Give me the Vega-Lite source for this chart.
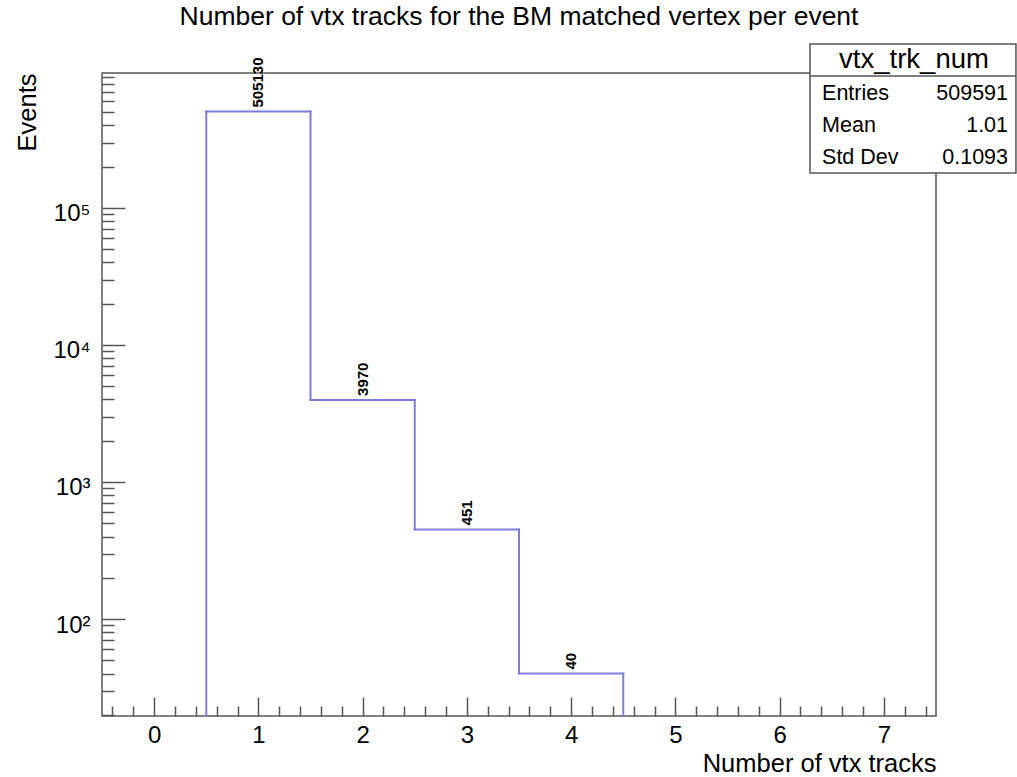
{
  "$schema": "https://vega.github.io/schema/vega-lite/v6.json",
  "width": 834,
  "height": 643,
  "autosize": {"type": "none"},
  "padding": {"left": 102, "top": 73, "right": 81, "bottom": 61},
  "background": "white",
  "title": {
    "text": "Number of vtx tracks for the BM matched vertex per event",
    "frame": "group",
    "anchor": "middle",
    "baseline": "alphabetic",
    "offset": -8,
    "fontSize": 26.5,
    "fontWeight": "normal",
    "font": "Liberation Sans",
    "color": "#000"
  },
  "datasets": {
    "hist": [
      {"bin": 1, "lo": 0.5, "hi": 1.5, "count": 505130},
      {"bin": 2, "lo": 1.5, "hi": 2.5, "count": 3970},
      {"bin": 3, "lo": 2.5, "hi": 3.5, "count": 451},
      {"bin": 4, "lo": 3.5, "hi": 4.5, "count": 40}
    ],
    "stats": [
      {"name": "vtx_trk_num", "entries": "509591", "mean": "1.01", "stddev": "0.1093"}
    ]
  },
  "data": {"name": "hist"},
  "layer": [
    {
      "mark": {"type": "rule", "stroke": "#7b7be0", "strokeWidth": 2, "strokeCap": "square"},
      "encoding": {
        "x": {
          "field": "lo",
          "type": "quantitative",
          "scale": {"domain": [-0.5, 7.5], "nice": false, "zero": false},
          "axis": {
            "title": "Number of vtx tracks",
            "titleAnchor": "end",
            "titleFontSize": 25.5,
            "titleFontWeight": "normal",
            "titleColor": "#000",
            "titlePadding": -5,
            "values": [-0.4, -0.2, 0, 0.2, 0.4, 0.6, 0.8, 1, 1.2, 1.4, 1.6, 1.8, 2, 2.2, 2.4, 2.6, 2.8, 3, 3.2, 3.4, 3.6, 3.8, 4, 4.2, 4.4, 4.6, 4.8, 5, 5.2, 5.4, 5.6, 5.8, 6, 6.2, 6.4, 6.6, 6.8, 7, 7.2, 7.4],
            "tickCount": 200,
            "labelExpr": "datum.value % 1 == 0 ? '' + datum.value : ''",
            "labelFontSize": 24,
            "labelColor": "#000",
            "labelPadding": 26,
            "labelFlush": false,
            "labelOverlap": false,
            "tickSize": {"condition": {"test": "datum.value % 1 == 0", "value": -19}, "value": -10},
            "tickColor": "#555",
            "tickWidth": 1.5,
            "domain": false,
            "grid": false
          }
        },
        "x2": {"field": "hi"},
        "y": {
          "field": "count",
          "type": "quantitative",
          "scale": {"type": "log", "domain": [19.6, 965400], "nice": false},
          "axis": {
            "title": "Events",
            "titleAnchor": "end",
            "titleFontSize": 25.5,
            "titleFontWeight": "normal",
            "titleColor": "#000",
            "titlePadding": 12,
            "values": [20, 30, 40, 50, 60, 70, 80, 90, 100, 200, 300, 400, 500, 600, 700, 800, 900, 1000, 2000, 3000, 4000, 5000, 6000, 7000, 8000, 9000, 10000, 20000, 30000, 40000, 50000, 60000, 70000, 80000, 90000, 100000, 200000, 300000, 400000, 500000, 600000, 700000, 800000, 900000],
            "tickCount": 200,
            "labelExpr": "datum.value == 100 ? '10²' : datum.value == 1000 ? '10³' : datum.value == 10000 ? '10⁴' : datum.value == 100000 ? '10⁵' : ''",
            "labelFontSize": 24,
            "labelColor": "#000",
            "labelPadding": 35,
            "labelOffset": 6,
            "labelBaseline": "middle",
            "labelFlush": false,
            "labelOverlap": false,
            "tickSize": {"condition": {"test": "indexof([100, 1000, 10000, 100000], datum.value) >= 0", "value": -23}, "value": -12},
            "tickColor": "#555",
            "tickWidth": 1.5,
            "domain": false,
            "grid": false
          }
        }
      }
    },
    {
      "transform": [
        {"window": [{"op": "lag", "field": "count", "as": "prev"}], "sort": [{"field": "lo", "order": "ascending"}]},
        {"filter": "isValid(datum.prev)"}
      ],
      "mark": {"type": "rule", "stroke": "#7b7be0", "strokeWidth": 2, "strokeCap": "square"},
      "encoding": {
        "x": {"field": "lo", "type": "quantitative"},
        "y": {"field": "prev", "type": "quantitative"},
        "y2": {"field": "count"}
      }
    },
    {
      "transform": [
        {"window": [{"op": "lag", "field": "count", "as": "prev"}], "sort": [{"field": "lo", "order": "ascending"}]},
        {"filter": "!isValid(datum.prev)"}
      ],
      "mark": {"type": "rule", "stroke": "#7b7be0", "strokeWidth": 2, "strokeCap": "square"},
      "encoding": {
        "x": {"field": "lo", "type": "quantitative"},
        "y": {"field": "count", "type": "quantitative"},
        "y2": {"datum": 19.6}
      }
    },
    {
      "transform": [
        {"window": [{"op": "lead", "field": "count", "as": "next"}], "sort": [{"field": "lo", "order": "ascending"}]},
        {"filter": "!isValid(datum.next)"}
      ],
      "mark": {"type": "rule", "stroke": "#7b7be0", "strokeWidth": 2, "strokeCap": "square"},
      "encoding": {
        "x": {"field": "hi", "type": "quantitative"},
        "y": {"field": "count", "type": "quantitative"},
        "y2": {"datum": 19.6}
      }
    },
    {
      "mark": {"type": "text", "angle": 270, "align": "left", "baseline": "middle", "dx": 4, "fontSize": 15, "fontWeight": "bold", "font": "Liberation Sans", "color": "#000"},
      "encoding": {
        "x": {"field": "bin", "type": "quantitative"},
        "y": {"field": "count", "type": "quantitative"},
        "text": {"field": "count", "type": "quantitative", "format": "d"}
      }
    },
    {
      "data": {"name": "stats"},
      "mark": {"type": "rect", "fill": "white", "stroke": "#555", "strokeWidth": 1.5, "clip": false},
      "encoding": {
        "x": {"datum": 6.291, "type": "quantitative"},
        "x2": {"datum": 8.267},
        "y": {"datum": 1573000, "type": "quantitative"},
        "y2": {"datum": 179900}
      }
    },
    {
      "data": {"name": "stats"},
      "mark": {"type": "rule", "stroke": "#555", "strokeWidth": 1.5, "clip": false},
      "encoding": {
        "x": {"datum": 6.291, "type": "quantitative"},
        "x2": {"datum": 8.267},
        "y": {"datum": 918700, "type": "quantitative"}
      }
    },
    {
      "data": {"name": "stats"},
      "mark": {"type": "text", "align": "center", "baseline": "alphabetic", "fontSize": 27.5, "font": "Liberation Sans", "color": "#000", "clip": false},
      "encoding": {
        "x": {"datum": 7.289, "type": "quantitative"},
        "y": {"datum": 1051000, "type": "quantitative"},
        "text": {"field": "name"}
      }
    },
    {
      "data": {"name": "stats"},
      "mark": {"type": "text", "align": "left", "baseline": "alphabetic", "fontSize": 21.5, "font": "Liberation Sans", "color": "#000", "clip": false},
      "encoding": {
        "x": {"datum": 6.407, "type": "quantitative"},
        "y": {"datum": 613800, "type": "quantitative"},
        "text": {"value": "Entries"}
      }
    },
    {
      "data": {"name": "stats"},
      "mark": {"type": "text", "align": "right", "baseline": "alphabetic", "fontSize": 21.5, "font": "Liberation Sans", "color": "#000", "clip": false},
      "encoding": {
        "x": {"datum": 8.191, "type": "quantitative"},
        "y": {"datum": 613800, "type": "quantitative"},
        "text": {"field": "entries"}
      }
    },
    {
      "data": {"name": "stats"},
      "mark": {"type": "text", "align": "left", "baseline": "alphabetic", "fontSize": 21.5, "font": "Liberation Sans", "color": "#000", "clip": false},
      "encoding": {
        "x": {"datum": 6.407, "type": "quantitative"},
        "y": {"datum": 358400, "type": "quantitative"},
        "text": {"value": "Mean"}
      }
    },
    {
      "data": {"name": "stats"},
      "mark": {"type": "text", "align": "right", "baseline": "alphabetic", "fontSize": 21.5, "font": "Liberation Sans", "color": "#000", "clip": false},
      "encoding": {
        "x": {"datum": 8.191, "type": "quantitative"},
        "y": {"datum": 358400, "type": "quantitative"},
        "text": {"field": "mean"}
      }
    },
    {
      "data": {"name": "stats"},
      "mark": {"type": "text", "align": "left", "baseline": "alphabetic", "fontSize": 21.5, "font": "Liberation Sans", "color": "#000", "clip": false},
      "encoding": {
        "x": {"datum": 6.407, "type": "quantitative"},
        "y": {"datum": 209300, "type": "quantitative"},
        "text": {"value": "Std Dev"}
      }
    },
    {
      "data": {"name": "stats"},
      "mark": {"type": "text", "align": "right", "baseline": "alphabetic", "fontSize": 21.5, "font": "Liberation Sans", "color": "#000", "clip": false},
      "encoding": {
        "x": {"datum": 8.191, "type": "quantitative"},
        "y": {"datum": 209300, "type": "quantitative"},
        "text": {"field": "stddev"}
      }
    }
  ],
  "config": {
    "font": "Liberation Sans",
    "view": {"stroke": "#555", "strokeWidth": 1.5},
    "axis": {"labelFont": "Liberation Sans", "titleFont": "Liberation Sans"}
  }
}
